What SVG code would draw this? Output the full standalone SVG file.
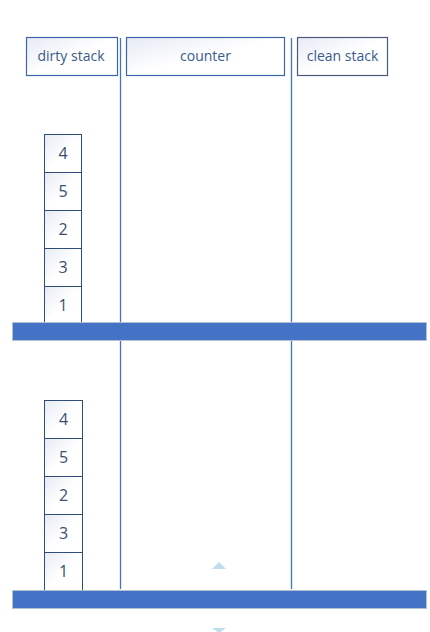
<svg xmlns="http://www.w3.org/2000/svg" width="430" height="632" viewBox="0 0 430 632">
<style>
.hdr{stroke:#3E64A8;stroke-width:1.2;fill:url(#g)}
.cell{stroke:#2E4E78;stroke-width:1;fill:url(#g)}
.t{font-family:"Open Sans","Liberation Sans",sans-serif;font-size:14px;fill:#3A5A8C;text-anchor:middle}
.n{font-family:"Open Sans","Liberation Sans",sans-serif;font-size:16px;fill:#3A4F70;text-anchor:middle}
.vl{stroke:#4472C4;stroke-width:1.3}
.bar{fill:#4472C4;stroke:#B4C0D4;stroke-width:1}
</style>
<defs>
<linearGradient id="g" x1="0" y1="0" x2="1" y2="1">
<stop offset="0" stop-color="#E6EAF5"/>
<stop offset="0.5" stop-color="#FFFFFF"/>
<stop offset="1" stop-color="#FFFFFF"/>
</linearGradient>
</defs>
<rect width="430" height="632" fill="#FFFFFF"/>
<g id="connectors">
<line class="vl" x1="120.5" y1="38" x2="120.5" y2="589"/>
<line class="vl" x1="291.5" y1="38" x2="291.5" y2="589"/>
</g>
<g id="hdr-dirty"><rect class="hdr" x="26.5" y="37.5" width="91" height="38"/><text class="t" x="71" y="61">dirty stack</text></g>
<g id="hdr-counter"><rect class="hdr" x="126.5" y="37.5" width="158" height="38"/><text class="t" x="205.5" y="61">counter</text></g>
<g id="hdr-clean"><rect class="hdr" x="297.5" y="37.5" width="90" height="38" style="stroke:#4A5A78"/><text class="t" x="342.5" y="61">clean stack</text></g>
<g id="stack1">
<g id="s1-4"><rect class="cell" x="44.5" y="134.5" width="37" height="38"/><text class="n" x="63" y="159">4</text></g>
<g id="s1-5"><rect class="cell" x="44.5" y="172.5" width="37" height="38"/><text class="n" x="63" y="197">5</text></g>
<g id="s1-2"><rect class="cell" x="44.5" y="210.5" width="37" height="38"/><text class="n" x="63" y="235">2</text></g>
<g id="s1-3"><rect class="cell" x="44.5" y="248.5" width="37" height="38"/><text class="n" x="63" y="273">3</text></g>
<g id="s1-1"><rect class="cell" x="44.5" y="286.5" width="37" height="36"/><text class="n" x="63" y="311">1</text></g>
</g>
<g id="bar1"><rect class="bar" x="12.5" y="322.5" width="414" height="18"/></g>
<g id="stack2">
<g id="s2-4"><rect class="cell" x="44.5" y="400.5" width="38" height="38"/><text class="n" x="63.5" y="425">4</text></g>
<g id="s2-5"><rect class="cell" x="44.5" y="438.5" width="38" height="38"/><text class="n" x="63.5" y="463">5</text></g>
<g id="s2-2"><rect class="cell" x="44.5" y="476.5" width="38" height="38"/><text class="n" x="63.5" y="501">2</text></g>
<g id="s2-3"><rect class="cell" x="44.5" y="514.5" width="38" height="38"/><text class="n" x="63.5" y="539">3</text></g>
<g id="s2-1"><rect class="cell" x="44.5" y="552.5" width="38" height="38"/><text class="n" x="63.5" y="577">1</text></g>
</g>
<g id="bar2"><rect class="bar" x="12.5" y="590.5" width="414" height="18"/></g>
<g id="marks">
<polygon points="212,569 226,569 219,562" fill="#BFDDEF"/>
<polygon points="212,628 226,628 219,633" fill="#BFDDEF"/>
</g>
</svg>
